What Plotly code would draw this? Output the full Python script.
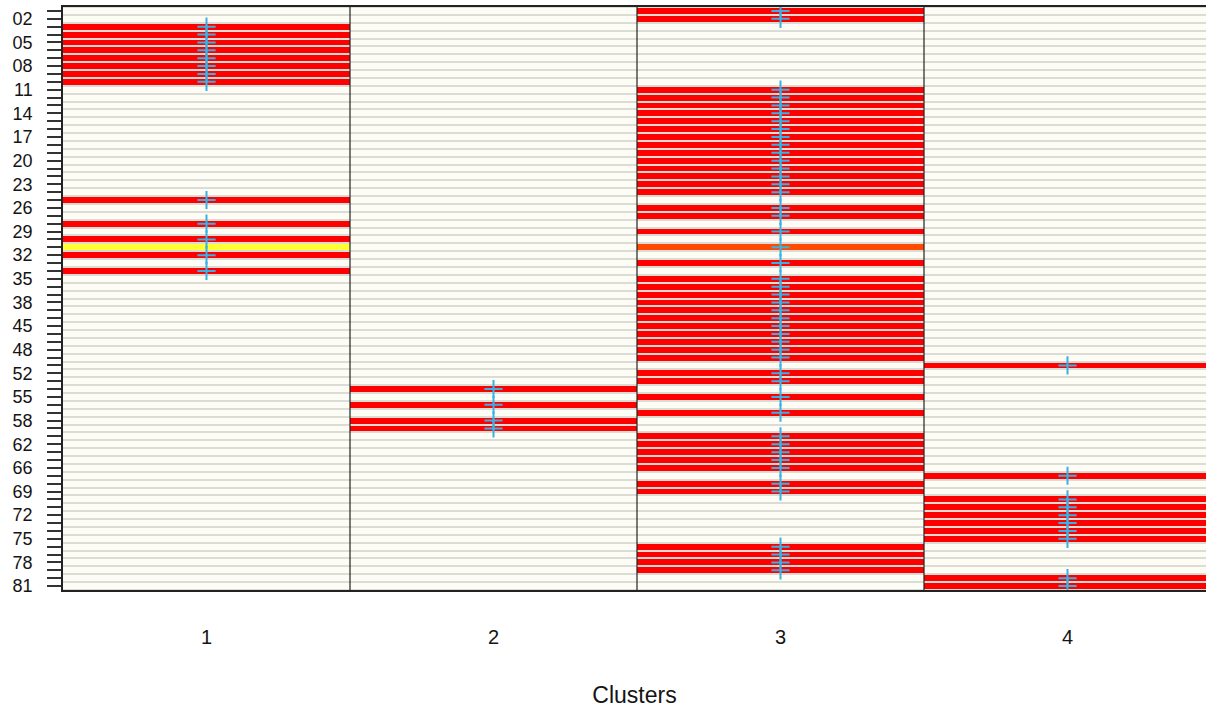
import plotly.graph_objects as go

# Cluster assigned to each of the 74 samples, listed top to bottom
row_cluster = [
    3, 3,
    1, 1, 1, 1, 1, 1, 1, 1,
    3, 3, 3, 3, 3, 3, 3, 3, 3, 3, 3, 3, 3, 3,
    1, 3, 3, 1, 3, 1, 3, 1, 3, 1,
    3, 3, 3, 3, 3, 3, 3, 3, 3, 3, 3,
    4, 3, 3, 2, 3, 2, 3, 2, 2,
    3, 3, 3, 3, 3, 4, 3, 3,
    4, 4, 4, 4, 4, 4,
    3, 3, 3, 3,
    4, 4,
]

# Sample 31 is split between two clusters
shared_row = 31
shared_membership = {1: 0.25, 3: 0.75}

clusters = [1, 2, 3, 4]
cluster_labels = ["1", "2", "3", "4"]

# Sample ids printed on the row axis (every third row, from row 2)
shown_ids = ["02", "05", "08", "11", "14", "17", "20", "23", "26", "29", "32", "35",
             "38", "45", "48", "52", "55", "58", "62", "66", "69", "72", "75", "78", "81"]

n_rows = len(row_cluster)
rows = list(range(1, n_rows + 1))

# membership matrix (rows x clusters)
z = []
for r, c in zip(rows, row_cluster):
    line = [1.0 if k == c else 0.0 for k in clusters]
    if r == shared_row:
        line = [shared_membership.get(k, 0.0) for k in clusters]
    z.append(line)

# strongest cluster per row gets a "+" marker
mark_x, mark_y = [], []
for r, line in zip(rows, z):
    best = max(range(len(clusters)), key=lambda i: line[i])
    mark_x.append(clusters[best])
    mark_y.append(r)

label_rows = list(range(2, n_rows + 1, 3))
tick_text = []
for r in rows:
    tick_text.append(shown_ids[label_rows.index(r)] if r in label_rows else "")

heat_scale = [
    [0.0, "#FDFDF5"],
    [0.25, "#FFFF33"],
    [0.75, "#FF4A00"],
    [1.0, "#FF0000"],
]

fig = go.Figure()
fig.add_trace(go.Heatmap(
    x=clusters, y=rows, z=z,
    zmin=0, zmax=1,
    colorscale=heat_scale,
    showscale=False,
    ygap=2,
    hoverinfo="skip",
))
fig.add_trace(go.Scatter(
    x=mark_x, y=mark_y,
    mode="markers",
    marker=dict(symbol="cross-thin", size=13,
                color="#36B2E6",
                line=dict(color="#36B2E6", width=2)),
    hoverinfo="skip",
    showlegend=False,
))

# dividers between cluster columns
for k in clusters[:-1]:
    fig.add_shape(type="line", xref="x", yref="paper",
                  x0=k + 0.5, x1=k + 0.5, y0=0, y1=1,
                  line=dict(color="#222222", width=1.2))

col_px = 287
plot_w = 1206 - 63
font_main = "Liberation Sans, Arial, sans-serif"

fig.update_layout(
    width=1206, height=708,
    margin=dict(l=63, r=0, t=7, b=118),
    paper_bgcolor="white",
    plot_bgcolor="#DCDCD6",
    showlegend=False,
    font=dict(family=font_main, size=16, color="#141414"),
    xaxis=dict(
        range=[0.5, 0.5 + plot_w / col_px],
        tickvals=clusters, ticktext=cluster_labels,
        ticks="", showgrid=False, zeroline=False,
        showline=True, mirror=True, linecolor="#222222", linewidth=1.5,
        ticklabelstandoff=28,
        tickfont=dict(size=20),
        title=dict(text="Clusters", standoff=41, font=dict(size=23)),
    ),
    yaxis=dict(
        range=[n_rows + 0.5, 0.5],
        tickvals=rows, ticktext=tick_text,
        ticks="outside", ticklen=14, tickwidth=1.5, tickcolor="#333333",
        showgrid=False, zeroline=False,
        showline=True, mirror=False, linecolor="#222222", linewidth=1.5,
        ticklabelstandoff=11,
        tickfont=dict(size=18),
    ),
)

fig.write_html("out.html")
